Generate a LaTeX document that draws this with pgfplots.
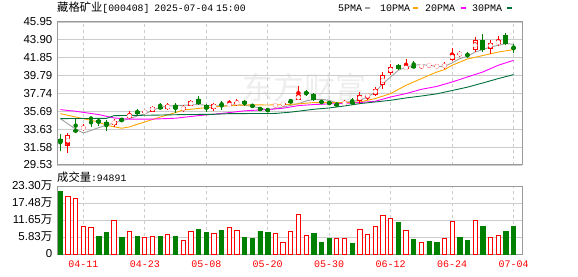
\documentclass[border=0pt]{standalone}
\usepackage{fontspec}
\setmainfont{Liberation Sans}
\newfontfamily\cjk{Noto Sans CJK SC}
\newfontfamily\mono{Liberation Mono}
\usepackage{pgfplots}
\usepackage{pgfplotstable}
\pgfplotsset{compat=1.18}
\definecolor{cRed}{HTML}{FF0000}
\definecolor{cGreen}{HTML}{008000}
\definecolor{mFive}{HTML}{A0A0A0}
\definecolor{mTen}{HTML}{FFA500}
\definecolor{mTwenty}{HTML}{FF00FF}
\definecolor{mThirty}{HTML}{00703C}
\definecolor{frameC}{HTML}{9A9A9A}
\definecolor{gridC}{HTML}{CCCCCC}

% rising candles (close >= open)
\pgfplotstableread{
i o h l c
1 31.76 33.21 30.91 32.94
3 33.68 34.20 33.44 33.86
7 34.17 34.86 33.86 34.63
9 34.93 35.70 34.86 35.39
11 35.50 35.85 35.39 35.73
12 35.66 36.30 35.60 36.24
14 36.01 36.65 35.89 36.42
16 35.85 36.42 35.62 36.19
17 36.35 37.04 36.27 36.85
20 35.93 36.70 35.73 36.58
22 36.40 36.96 36.38 36.46
23 36.50 37.16 36.27 36.81
28 36.36 36.58 36.19 36.42
29 36.51 36.70 36.31 36.57
31 37.04 38.60 36.95 37.53
37 36.60 36.96 36.39 36.65
39 36.85 37.91 36.58 37.61
40 37.45 37.73 36.96 37.55
41 37.61 38.49 37.42 38.30
42 38.68 40.21 38.30 39.83
43 40.14 41.17 39.83 40.78
45 40.60 41.67 40.41 40.78
47 40.86 41.10 40.60 40.92
48 40.94 41.21 40.67 41.00
49 40.84 41.10 40.67 40.88
50 40.85 41.36 40.52 41.00
51 41.55 42.96 41.47 42.32
52 42.20 42.59 41.93 42.35
54 42.70 44.23 42.51 43.85
56 42.90 43.93 42.24 43.58
57 43.39 44.34 43.19 43.85
}\up
% falling candles (close < open)
\pgfplotstableread{
i o h l c
0 32.52 33.14 31.14 32.14
2 33.52 34.86 33.25 33.42
4 34.90 34.92 33.95 34.84
5 34.75 34.97 34.01 34.35
6 34.47 34.75 33.44 34.09
8 34.78 34.93 34.52 34.58
10 35.73 35.93 35.24 35.43
13 36.15 36.65 36.01 36.10
15 36.47 36.65 35.50 36.01
18 37.16 37.45 36.39 36.58
19 36.39 36.58 35.62 35.93
21 36.53 36.85 35.89 36.47
24 36.88 37.05 36.27 36.50
25 36.33 36.58 36.08 36.28
26 35.99 36.19 35.73 35.94
27 35.84 36.08 35.62 35.79
30 36.84 37.16 36.58 36.79
32 37.83 38.11 37.42 37.78
33 37.65 37.80 36.88 37.04
34 36.85 36.96 36.58 36.65
35 36.68 36.77 36.50 36.63
36 36.50 36.70 36.19 36.45
38 36.73 37.23 36.47 36.68
44 40.98 41.10 40.48 40.60
46 40.87 41.44 40.71 40.80
53 42.16 42.51 41.86 42.10
55 43.93 44.62 42.51 42.70
58 44.42 44.69 43.27 43.47
59 43.05 43.47 42.39 42.98
}\down
% volume, in units of 10k shares
\pgfplotstableread{
i v
1 19.76
2 18.97
3 9.54
4 9.09
7 11.58
9 7.73
11 5.69
12 6.13
14 6.81
16 4.77
17 7.73
20 7.05
22 9.09
23 8.17
28 7.05
29 3.99
30 7.73
31 13.52
32 6.37
36 5.35
37 5.35
39 8.41
40 6.71
41 9.43
42 13.18
43 12.16
45 8.07
47 3.99
50 5.35
51 11.24
54 11.48
56 5.69
57 6.37
}\vup
\pgfplotstableread{
i v
0 21.46
5 6.13
6 7.49
8 5.79
10 6.13
13 6.13
15 6.13
18 8.52
19 7.49
21 8.17
24 5.79
25 5.45
26 7.83
27 7.49
33 7.15
34 4.09
35 5.35
38 3.75
44 10.90
46 5.01
48 4.43
49 4.09
52 5.79
53 4.77
55 9.54
58 7.83
59 9.49
}\vdown

\pgfplotsset{
  panel/.style={
    scale only axis, width=465pt,
    xmin=-0.43, xmax=60.1,
    xtick={3,11,19,27,35,43,51,59},
    axis line style={draw=frameC, line width=1pt},
    major tick length=0pt,
    xmajorgrids, ymajorgrids,
    major grid style={draw=gridC, line width=0.8pt},
    every axis x grid/.append style={dash pattern=on 3pt off 3pt},
    tick label style={inner sep=0pt, font=\fontsize{11.5}{13}\selectfont},
    yticklabel style={anchor=east, xshift=-4.5pt},
    clip=true,
  },
  candle/.style={only marks, mark=none, error bars/.cd, y dir=both, y explicit, error mark=none},
}

\begin{document}
\begin{tikzpicture}
\path[use as bounding box] (0pt,0pt) rectangle (578pt,276pt);

% watermark
\node[text=black!7, inner sep=0, font=\cjk\fontsize{31}{31}\selectfont] at (304pt,188pt) {东方财富};

% title
\node[anchor=west, inner sep=0] at (57pt,268pt)
  {{\cjk\fontsize{11.3}{13}\selectfont 藏格矿业}{\mono\fontsize{9.8}{12}\selectfont [000408]\hspace{5pt}2025-07-04\hspace{3pt}15:00}};
% legend
\node[anchor=west, inner sep=0, font=\mono\fontsize{10}{12}\selectfont] at (338pt,268pt) {5PMA};
\fill[mFive] (364.5pt,266.8pt) rectangle (370pt,269pt);
\node[anchor=west, inner sep=0, font=\mono\fontsize{10}{12}\selectfont] at (380pt,268pt) {10PMA};
\fill[mTen] (412.5pt,266.8pt) rectangle (418pt,269pt);
\node[anchor=west, inner sep=0, font=\mono\fontsize{10}{12}\selectfont] at (425pt,268pt) {20PMA};
\fill[mTwenty] (460.5pt,266.8pt) rectangle (466pt,269pt);
\node[anchor=west, inner sep=0, font=\mono\fontsize{10}{12}\selectfont] at (472pt,268pt) {30PMA};
\fill[mThirty] (506.5pt,266.8pt) rectangle (512pt,269pt);

% volume title
\node[anchor=west, inner sep=0] at (57pt,99pt)
  {{\cjk\fontsize{11.3}{13}\selectfont 成交量}{\mono\fontsize{9.8}{12}\selectfont :94891}};

% price panel
\begin{axis}[panel, anchor=south west, at={(57pt,111pt)}, height=143pt,
  ymin=29.53, ymax=45.95,
  ytick={29.53,31.58,33.63,35.69,37.74,39.79,41.85,43.90,45.95},
  yticklabels={29.53,31.58,33.63,35.69,37.74,39.79,41.85,43.90,45.95},
  xticklabels={}]
% moving averages
\addplot[mFive, line width=0.9pt] coordinates {(0,34.86)(1,34.25)(2,33.65)(3,33.2)(4,33.5)(5,33.82)(6,34.1)(7,34.35)(8,34.6)(9,34.85)(10,35.15)(11,35.4)(12,35.8)(13,36.15)(14,36.3)(16,36.39)(18,36.47)(19,36.39)(21,36.3)(23,36.47)(25,36.27)(27,35.85)(29,36.19)(31,36.58)(32,36.88)(33,37.04)(34,37.07)(35,36.96)(36,36.65)(37,36.70)(38,36.85)(39,36.96)(40,37.34)(41,37.91)(42,38.88)(43,39.64)(44,40.4)(45,40.78)(46,40.98)(47,41.06)(48,40.98)(49,40.86)(50,40.86)(51,41.25)(52,41.75)(53,42.01)(54,42.51)(55,42.78)(56,43.08)(57,43.27)(58,43.47)(59,43.39)};
\addplot[mTen, line width=0.9pt] coordinates {(0,35.43)(2,35.04)(5,34.47)(6,34.09)(8,33.75)(9,33.9)(10,34.2)(11,34.47)(12,34.75)(13,35.04)(15,35.55)(16,35.85)(17,35.93)(19,36.12)(21,36.27)(23,36.39)(25,36.44)(27,36.42)(29,36.45)(31,36.55)(33,36.7)(35,36.7)(37,36.7)(39,36.77)(41,37.16)(43,37.73)(45,38.68)(47,39.45)(48,39.83)(49,40.2)(50,40.48)(51,40.98)(53,41.7)(55,42.1)(57,42.5)(59,42.78)};
\addplot[mTwenty, line width=0.9pt] coordinates {(0,35.89)(2,35.7)(5,35.32)(7,34.93)(9,34.8)(12,34.8)(15,34.9)(18,35.2)(21,35.45)(24,35.75)(27,35.9)(29,36.05)(31,36.35)(33,36.47)(35,36.55)(37,36.6)(39,36.7)(41,36.85)(43,37.34)(45,37.73)(47,38.22)(49,38.55)(51,39.06)(53,39.64)(55,40.21)(57,40.98)(59,41.55)};
\addplot[mThirty, line width=0.9pt] coordinates {(0,34.86)(6,34.88)(7,35.2)(12,35.25)(16,35.32)(20,35.35)(22,35.43)(28,35.45)(30,35.6)(33,35.93)(35,36.08)(37,36.31)(39,36.58)(41,36.77)(43,36.96)(45,37.23)(47,37.45)(49,37.7)(51,38.08)(53,38.47)(55,38.95)(57,39.45)(59,39.91)};
% wicks
\addplot[cRed, candle, error bar style={cRed, line width=1pt}]
  table[x=i, y expr={(\thisrow{h}+\thisrow{l})/2}, y error expr={(\thisrow{h}-\thisrow{l})/2}] {\up};
\addplot[cGreen, candle, error bar style={cGreen, line width=1pt}]
  table[x=i, y expr={(\thisrow{h}+\thisrow{l})/2}, y error expr={(\thisrow{h}-\thisrow{l})/2}] {\down};
% bodies
\addplot[cGreen, candle, error bar style={cGreen, line width=5pt}]
  table[x=i, y expr={(\thisrow{o}+\thisrow{c})/2}, y error expr={max(abs(\thisrow{c}-\thisrow{o})/2,0.06)}] {\down};
\addplot[cRed, candle, error bar style={cRed, line width=5pt}]
  table[x=i, y expr={(\thisrow{o}+\thisrow{c})/2}, y error expr={max(abs(\thisrow{c}-\thisrow{o})/2,0.06)}] {\up};
\addplot[white, candle, error bar style={white, line width=3pt}]
  table[x=i, y expr={(\thisrow{o}+\thisrow{c})/2}, y error expr={max(abs(\thisrow{c}-\thisrow{o})/2-0.115,0)}] {\up};
\end{axis}

% volume panel
\begin{axis}[panel, anchor=south west, at={(57pt,22pt)}, height=68pt,
  ymin=0, ymax=23.30,
  ytick={0,5.825,11.65,17.475,23.30},
  yticklabels={0,5.83{\cjk 万},11.65{\cjk 万},17.48{\cjk 万},23.30{\cjk 万}},
  xticklabels={04-11,04-23,05-08,05-20,05-30,06-12,06-24,07-04},
  xticklabel style={font=\mono\fontsize{10}{12}\selectfont, text=cRed, yshift=-6.5pt},
  ybar, bar width=4.2pt]
\addplot[bar shift=0pt, draw=cRed, fill=white, line width=1pt] table[x=i, y=v] {\vup};
\addplot[bar shift=0pt, draw=cGreen, fill=cGreen, line width=0.6pt] table[x=i, y=v] {\vdown};
\end{axis}
\end{tikzpicture}
\end{document}
